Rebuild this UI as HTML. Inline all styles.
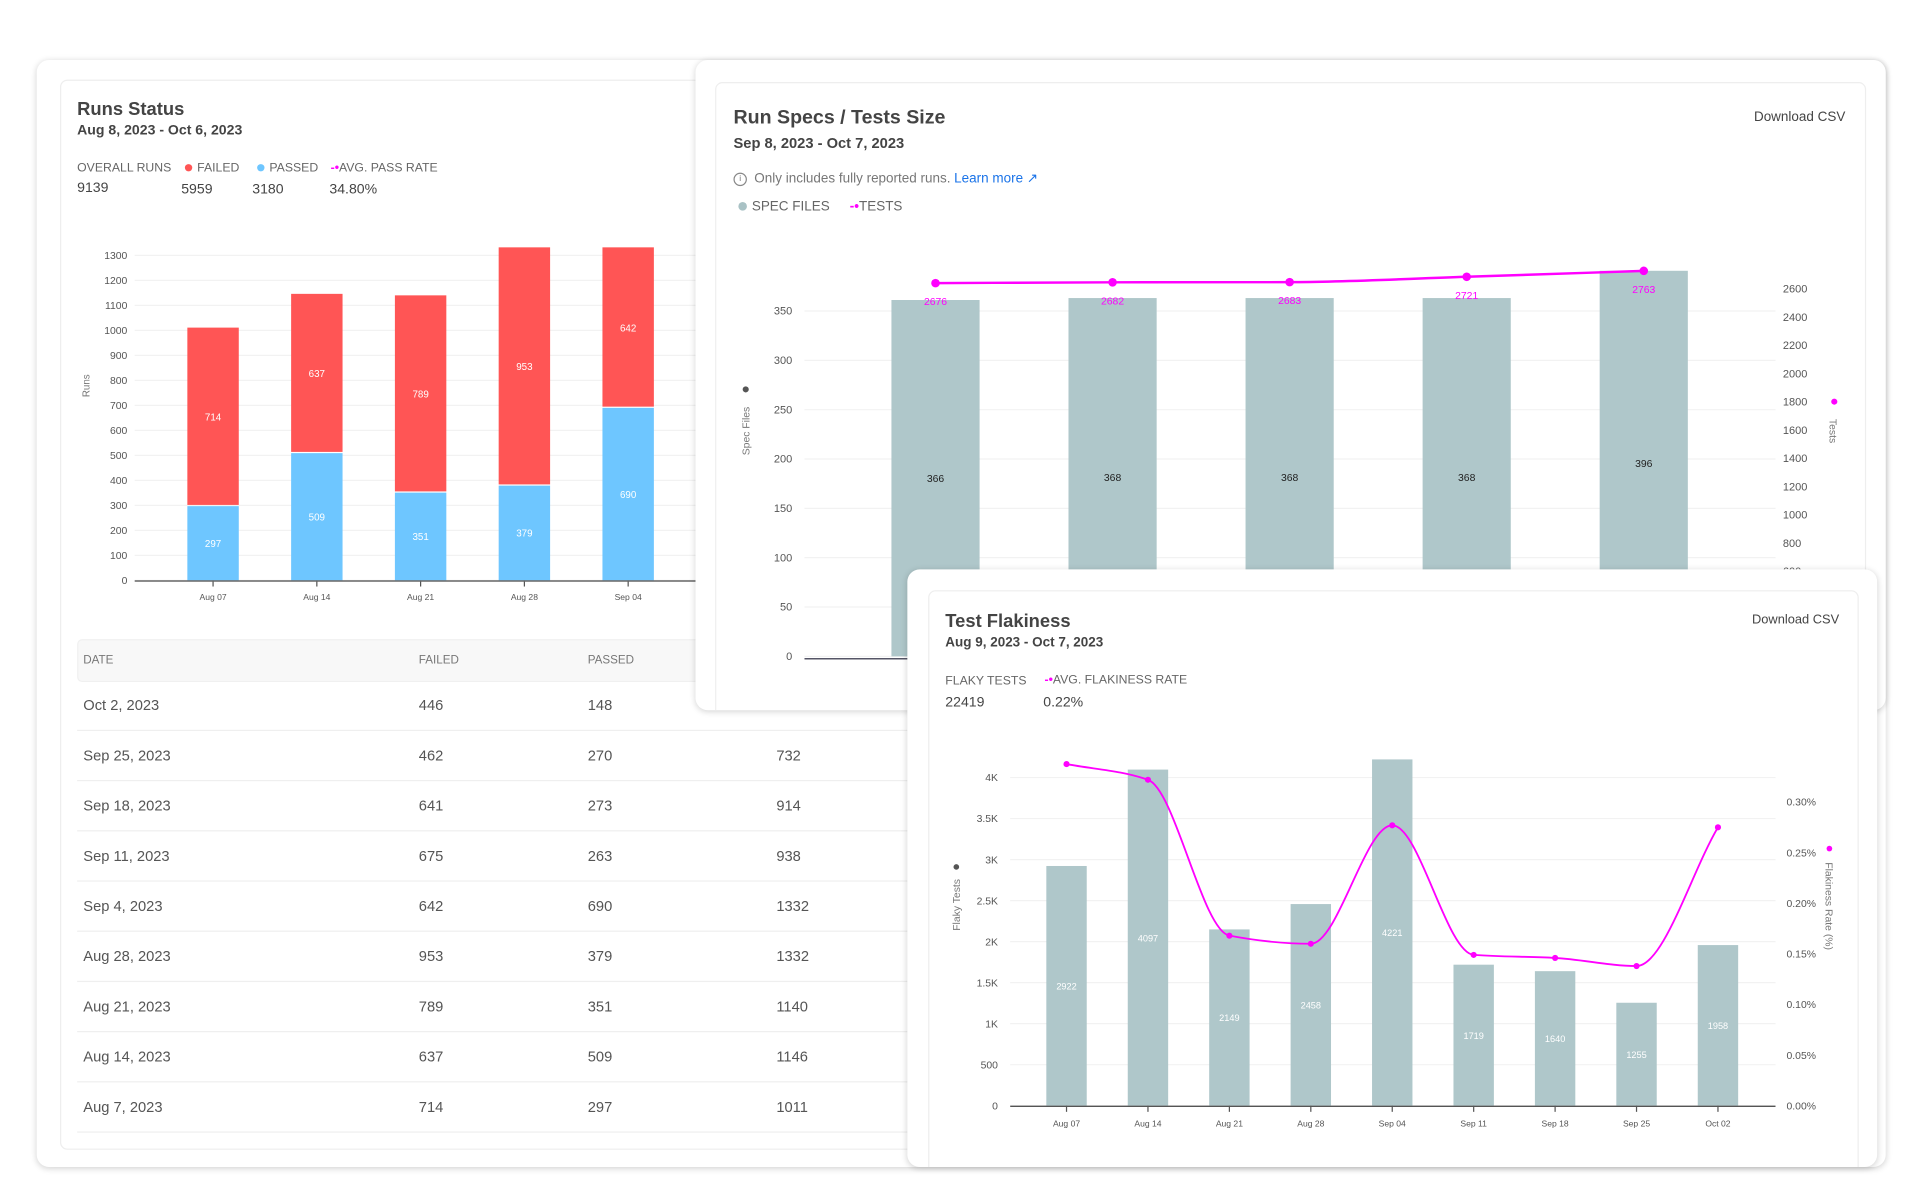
<!DOCTYPE html>
<html><head><meta charset="utf-8"><style>
html,body{margin:0;padding:0;background:#fff;width:1920px;height:1200px;overflow:hidden}
body{font-family:"Liberation Sans",Arial,sans-serif;color:#333}
#stage{position:absolute;left:0;top:0;width:1568px;height:980px;transform:scale(1.22449);transform-origin:0 0}
.card{position:absolute;background:#fff;border-radius:10px;box-shadow:0 1px 5px rgba(0,0,0,.18);overflow:hidden}
.inner{position:absolute;border:1px solid #eee;border-radius:6px}
.abs{position:absolute;white-space:nowrap}
.title{font-size:15px;font-weight:bold;color:#444}
.date{font-size:11.5px;font-weight:bold;color:#444}
.lbl{font-size:10px;color:#666}
.val{font-size:11.5px;color:#444}
.dl{font-size:11px;color:#444}
svg{position:absolute}
svg text{font-family:"Liberation Sans",Arial,sans-serif}
.th{font-size:9.5px;color:#777}
.td{font-size:12px;color:#555}
</style></head><body>
<div id="stage">

<!-- Card 1: Runs Status -->
<div class="card" style="left:30px;top:49px;width:1510px;height:904px">
  <div class="inner" style="left:19px;top:16px;width:1000px;height:872px"></div>
  <div class="abs title" style="left:33px;top:32px">Runs Status</div>
  <div class="abs date" style="left:33px;top:52px">Aug 8, 2023 - Oct 6, 2023</div>
  <div class="abs lbl" style="left:33px;top:83px">OVERALL RUNS</div>
  <div class="abs val" style="left:33px;top:99px">9139</div>
  <div class="abs lbl" style="left:121px;top:83px"><span style="display:inline-block;width:6px;height:6px;border-radius:50%;background:#ff5555;margin-right:4px"></span>FAILED</div>
  <div class="abs val" style="left:118px;top:100px">5959</div>
  <div class="abs lbl" style="left:180px;top:83px"><span style="display:inline-block;width:6px;height:6px;border-radius:50%;background:#6ec6ff;margin-right:4px"></span>PASSED</div>
  <div class="abs val" style="left:176px;top:100px">3180</div>
  <div class="abs lbl" style="left:240px;top:83px"><span style="color:#f0f;font-weight:bold">-•</span>AVG. PASS RATE</div>
  <div class="abs val" style="left:239px;top:100px">34.80%</div>
  <svg id="runsChart" width="1568" height="980" style="left:-30px;top:-49px"></svg>
  <div id="runsTable"></div>
</div>

<!-- Card 2: Run Specs / Tests Size -->
<div class="card" style="left:568px;top:49px;width:972px;height:531px">
  <div class="inner" style="left:16px;top:18px;width:938px;height:520px"></div>
  <div class="abs title" style="left:31px;top:39px;font-size:16px">Run Specs / Tests Size</div>
  <div class="abs date" style="left:31px;top:61px;font-size:12px">Sep 8, 2023 - Oct 7, 2023</div>
  <div class="abs dl" style="right:33px;top:41px">Download CSV</div>
  <div class="abs" style="left:31px;top:90px;font-size:11px;color:#777"><span style="display:inline-block;width:9px;height:9px;border:1px solid #888;border-radius:50%;font-size:7px;line-height:9px;text-align:center;margin-right:6px;vertical-align:1px">i</span>Only includes fully reported runs. <span style="color:#1a73e8">Learn more ↗</span></div>
  <div class="abs lbl" style="left:35px;top:114px;font-size:11px"><span style="display:inline-block;width:7px;height:7px;border-radius:50%;background:#a9c2c5;margin-right:4px"></span>SPEC FILES</div>
  <div class="abs lbl" style="left:126px;top:114px;font-size:11px"><span style="color:#f0f;font-weight:bold">-•</span>TESTS</div>
  <svg id="specChart" width="1568" height="980" style="left:-568px;top:-49px"></svg>
</div>

<!-- Card 3: Test Flakiness -->
<div class="card" style="left:741px;top:465px;width:792px;height:488px">
  <div class="inner" style="left:17px;top:17px;width:758px;height:480px"></div>
  <div class="abs title" style="left:31px;top:34px">Test Flakiness</div>
  <div class="abs date" style="left:31px;top:54px;font-size:11px">Aug 9, 2023 - Oct 7, 2023</div>
  <div class="abs dl" style="right:31px;top:35px;font-size:10.5px">Download CSV</div>
  <div class="abs lbl" style="left:31px;top:86px">FLAKY TESTS</div>
  <div class="abs val" style="left:31px;top:103px">22419</div>
  <div class="abs lbl" style="left:112px;top:85px"><span style="color:#f0f;font-weight:bold">-•</span>AVG. FLAKINESS RATE</div>
  <div class="abs val" style="left:111px;top:103px">0.22%</div>
  <svg id="flakyChart" width="1568" height="980" style="left:-741px;top:-465px"></svg>
</div>
</div>

<script>
// ---------- Runs Status data ----------
const runDates = ["Aug 07","Aug 14","Aug 21","Aug 28","Sep 04","Sep 11"];
const runFailed = [714,637,789,953,642,675];
const runPassed = [297,509,351,379,690,263];
const runTicks = [0,100,200,300,400,500,600,700,800,900,1000,1100,1200,1300];
const tableDates = ["Oct 2, 2023","Sep 25, 2023","Sep 18, 2023","Sep 11, 2023","Sep 4, 2023","Aug 28, 2023","Aug 21, 2023","Aug 14, 2023","Aug 7, 2023"];
const tableFailed = [446,462,641,675,642,953,789,637,714];
const tablePassed = [148,270,273,263,690,379,351,509,297];
// ---------- Spec data ----------
const specDates = ["Sep 08","Sep 15","Sep 22","Sep 29","Oct 06"];
const specFiles = [366,368,368,368,396];
const specTests = [2676,2682,2683,2721,2763];
const specLeftTicks = [0,50,100,150,200,250,300,350];
const specRightTicks = [600,800,1000,1200,1400,1600,1800,2000,2200,2400,2600];
// ---------- Flakiness data ----------
const flakyDates = ["Aug 07","Aug 14","Aug 21","Aug 28","Sep 04","Sep 11","Sep 18","Sep 25","Oct 02"];
const flakyCounts = [2922,4097,2149,2458,4221,1719,1640,1255,1958];
const flakyRates = [0.3375,0.322,0.168,0.160,0.277,0.149,0.146,0.138,0.275];
const flakyLeftTicks = [0,500,1000,1500,2000,2500,3000,3500,4000];
const flakyLeftLabels = ["0","500","1K","1.5K","2K","2.5K","3K","3.5K","4K"];
const flakyRightTicks = [0,0.05,0.10,0.15,0.20,0.25,0.30];

const NS="http://www.w3.org/2000/svg";
function mk(svg,tag,attrs,text){const e=document.createElementNS(NS,tag);for(const k in attrs)e.setAttribute(k,attrs[k]);if(text!==undefined)e.textContent=text;svg.appendChild(e);return e;}
function monotone(pts){
  const n=pts.length;if(n<2)return "";
  const dx=[],dy=[],m=[];
  for(let i=0;i<n-1;i++){dx.push(pts[i+1][0]-pts[i][0]);dy.push(pts[i+1][1]-pts[i][1]);m.push(dy[i]/dx[i]);}
  const t=[m[0]];
  for(let i=1;i<n-1;i++){ if(m[i-1]*m[i]<=0)t.push(0); else {const h0=dx[i-1],h1=dx[i];t.push(3*(h0+h1)/((2*h1+h0)/m[i-1]+(h1+2*h0)/m[i]));}}
  t.push(m[n-2]);
  let d="M"+pts[0][0]+","+pts[0][1];
  for(let i=0;i<n-1;i++){const h=dx[i]/3;d+=" C"+(pts[i][0]+h)+","+(pts[i][1]+h*t[i])+" "+(pts[i+1][0]-h)+","+(pts[i+1][1]-h*t[i+1])+" "+pts[i+1][0]+","+pts[i+1][1];}
  return d;
}

// ---------- Runs chart ----------
(function(){
  const svg=document.getElementById('runsChart');
  const y0=474, ppu=(474-202)/1332;
  const y=v=>y0-v*ppu;
  const x=i=>174+i*84.75;
  const rateY=r=>475-r*527;
  runTicks.forEach(t=>{
    const g=mk(svg,'line',{x1:110,x2:600,y1:y(t),y2:y(t),stroke:'#f2f2f2'});
    
    
    const l=mk(svg,'text',{x:104,y:y(t)+3,'font-size':8.5,fill:'#555','text-anchor':'end'},t);
    
    
  });
  const at=mk(svg,'text',{x:0,y:0,'font-size':8,fill:'#777','text-anchor':'middle',transform:'translate(73,315) rotate(-90)'},'Runs');
  
  
  runDates.forEach((d,i)=>{
    const bw=42, bx=x(i)-bw/2;
    const p=mk(svg,'rect',{x:bx,y:y(runPassed[i]),width:bw,height:runPassed[i]*ppu,fill:'#6ec6ff'});
    
    
    const f=mk(svg,'rect',{x:bx,y:y(runPassed[i]+runFailed[i]),width:bw,height:runFailed[i]*ppu-1,fill:'#ff5555'});
    
    
    const pl=mk(svg,'text',{x:x(i),y:y(runPassed[i]/2)+3,'font-size':8,fill:'#fff','text-anchor':'middle'},runPassed[i]);
    
    
    const fl=mk(svg,'text',{x:x(i),y:y(runPassed[i]+runFailed[i]/2)+3,'font-size':8,fill:'#fff','text-anchor':'middle'},runFailed[i]);
    
    
    mk(svg,'line',{x1:x(i),x2:x(i),y1:y0,y2:y0+5,stroke:'#555'});
    const xl=mk(svg,'text',{x:x(i),y:y0+16,'font-size':7,fill:'#555','text-anchor':'middle'},d);
    
    
  });
  const ax=mk(svg,'line',{x1:110,x2:600,y1:y0+0.5,y2:y0+0.5,stroke:'#666','stroke-width':1.2});
  
  
  const pts=runDates.map((d,i)=>[x(i),rateY(runPassed[i]/(runPassed[i]+runFailed[i])*100)]);
  const ln=mk(svg,'path',{d:monotone(pts),fill:'none',stroke:'#f0f','stroke-width':1.5});
  
  
  pts.forEach(p=>{const c=mk(svg,'circle',{cx:p[0],cy:p[1],r:2.5,fill:'#f0f'});
    
    });
})();

// ---------- Runs table ----------
(function(){
  const t=document.getElementById('runsTable');
  const ox=30, oy=49;
  let h='<div class="abs" style="left:'+(63-ox)+'px;top:'+(522-oy)+'px;width:900px;height:33px;background:#f8f8f8;border-radius:4px;border:1px solid #f0f0f0"></div>';
  h+='<div class="abs th" style="left:'+(68-ox)+'px;top:'+(534-oy)+'px">DATE</div>';
  h+='<div class="abs th" style="left:'+(342-ox)+'px;top:'+(534-oy)+'px">FAILED</div>';
  h+='<div class="abs th" style="left:'+(480-ox)+'px;top:'+(534-oy)+'px">PASSED</div>';
  t.innerHTML=h;
  tableDates.forEach((d,i)=>{
    const cy=576+i*41-oy;
    const r=document.createElement('div');
    
    
    r.innerHTML='<div class="abs td" style="left:'+(68-ox)+'px;top:'+(cy-7)+'px">'+d+'</div>'+
      '<div class="abs td" style="left:'+(342-ox)+'px;top:'+(cy-7)+'px">'+tableFailed[i]+'</div>'+
      '<div class="abs td" style="left:'+(480-ox)+'px;top:'+(cy-7)+'px">'+tablePassed[i]+'</div>'+
      '<div class="abs td" style="left:'+(634-ox)+'px;top:'+(cy-7)+'px">'+(tableFailed[i]+tablePassed[i])+'</div>'+
      '<div class="abs" style="left:'+(63-ox)+'px;top:'+(cy+20)+'px;width:900px;height:1px;background:#efefef"></div>';
    t.appendChild(r);
  });
})();

// ---------- Spec chart ----------
(function(){
  const svg=document.getElementById('specChart');
  const y0=536, ppl=(536-245)/366, ppr=(536-236)/2600;
  const yl=v=>y0-v*ppl, yr=v=>y0-v*ppr;
  const yt=v=>y0-v*ppl;
  const x=i=>764+i*144.6;
  specLeftTicks.forEach(t=>{
    const ty=536-t*(536-254)/350;
    const g=mk(svg,'line',{x1:657,x2:1450,y1:ty,y2:ty,stroke:'#f2f2f2'});
    
    
    const l=mk(svg,'text',{x:647,y:ty+3,'font-size':9,fill:'#555','text-anchor':'end'},t);
    
    
  });
  specRightTicks.forEach(t=>{
    const l=mk(svg,'text',{x:1456,y:yr(t)+3,'font-size':9,fill:'#555'},t);
    
    
  });
  mk(svg,'circle',{cx:609,cy:318,r:2.5,fill:'#555'});
  const lt=mk(svg,'text',{x:0,y:0,'font-size':8.5,fill:'#777','text-anchor':'middle',transform:'translate(612,352) rotate(-90)'},'Spec Files');
  
  
  mk(svg,'circle',{cx:1498,cy:328,r:2.5,fill:'#f0f'});
  const rt=mk(svg,'text',{x:0,y:0,'font-size':8.5,fill:'#777','text-anchor':'middle',transform:'translate(1494,352) rotate(90)'},'Tests');
  
  
  specDates.forEach((d,i)=>{
    const b=mk(svg,'rect',{x:x(i)-36,y:yl(specFiles[i]),width:72,height:specFiles[i]*ppl,fill:'#afc7ca'});
    
    
    const bl=mk(svg,'text',{x:x(i),y:yl(specFiles[i]/2)+3,'font-size':8.5,fill:'#222','text-anchor':'middle'},specFiles[i]);
    
    
    const tl=mk(svg,'text',{x:x(i),y:yr(specTests[i])+22,'font-size':8.5,fill:'#f0f','text-anchor':'middle'},specTests[i]);
    
    
  });
  const ax=mk(svg,'line',{x1:657,x2:1450,y1:y0+2,y2:y0+2,stroke:'#556',"stroke-width":1.2});
  
  
  const pts=specDates.map((d,i)=>[x(i),yr(specTests[i])+4]);
  const ln=mk(svg,'path',{d:monotone(pts),fill:'none',stroke:'#f0f','stroke-width':2});
  
  
  pts.forEach(p=>{const c=mk(svg,'circle',{cx:p[0],cy:p[1],r:3.5,fill:'#f0f'});
    
    });
})();

// ---------- Flakiness chart ----------
(function(){
  const svg=document.getElementById('flakyChart');
  const y0=903, ppl=(903-635)/4000, ppr=(903-655)/0.30;
  const yl=v=>y0-v*ppl, yr=v=>y0-v*ppr;
  const x=i=>871+i*66.5;
  flakyLeftTicks.forEach((t,i)=>{
    const g=mk(svg,'line',{x1:825,x2:1450,y1:yl(t),y2:yl(t),stroke:'#f2f2f2'});
    
    
    const l=mk(svg,'text',{x:815,y:yl(t)+3,'font-size':8.5,fill:'#555','text-anchor':'end'},flakyLeftLabels[i]);
    
    
  });
  flakyRightTicks.forEach(t=>{
    const l=mk(svg,'text',{x:1459,y:yr(t)+3,'font-size':8.5,fill:'#555'},t.toFixed(2)+'%');
    
    
  });
  mk(svg,'circle',{cx:781,cy:708,r:2.3,fill:'#555'});
  const lt=mk(svg,'text',{x:0,y:0,'font-size':8.5,fill:'#777','text-anchor':'middle',transform:'translate(784,739) rotate(-90)'},'Flaky Tests');
  
  
  mk(svg,'circle',{cx:1494,cy:693,r:2.3,fill:'#f0f'});
  const rt=mk(svg,'text',{x:0,y:0,'font-size':8.5,fill:'#777','text-anchor':'middle',transform:'translate(1491,740) rotate(90)'},'Flakiness Rate (%)');
  
  
  flakyDates.forEach((d,i)=>{
    const b=mk(svg,'rect',{x:x(i)-16.5,y:yl(flakyCounts[i]),width:33,height:flakyCounts[i]*ppl,fill:'#afc7ca'});
    
    
    const bl=mk(svg,'text',{x:x(i),y:yl(flakyCounts[i]/2)+3,'font-size':7.5,fill:'#fff','text-anchor':'middle'},flakyCounts[i]);
    
    
    mk(svg,'line',{x1:x(i),x2:x(i),y1:y0,y2:y0+5,stroke:'#555'});
    const xl=mk(svg,'text',{x:x(i),y:y0+17,'font-size':7,fill:'#555','text-anchor':'middle'},d);
    
    
  });
  const ax=mk(svg,'line',{x1:825,x2:1450,y1:y0+0.5,y2:y0+0.5,stroke:'#555','stroke-width':1.2});
  
  
  const pts=flakyDates.map((d,i)=>[x(i),yr(flakyRates[i])]);
  const ln=mk(svg,'path',{d:monotone(pts),fill:'none',stroke:'#f0f','stroke-width':1.5});
  
  
  pts.forEach(p=>{const c=mk(svg,'circle',{cx:p[0],cy:p[1],r:2.5,fill:'#f0f'});
    
    });
})();
</script>
</body></html>
